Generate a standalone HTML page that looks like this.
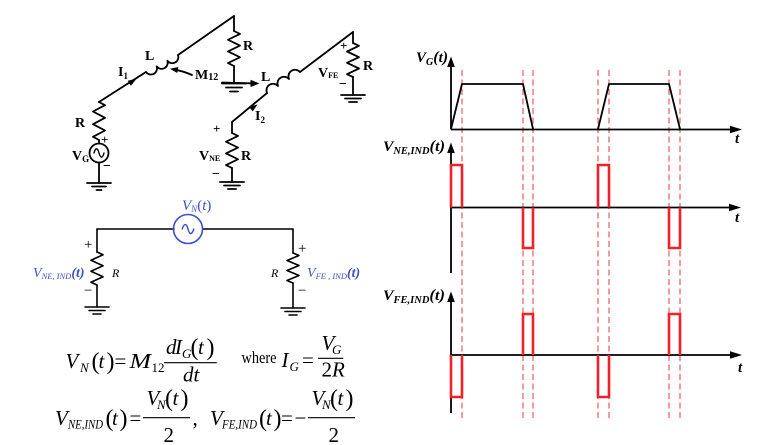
<!DOCTYPE html>
<html><head><meta charset="utf-8"><style>
html,body{margin:0;padding:0;background:#fff;}
svg{display:block;}
text{font-family:"Liberation Serif",serif;fill:#000;}
.b{font-weight:bold;}
.i{font-style:italic;}
.bl{fill:#3f51c7;}
</style></head><body>
<svg width="761" height="445" viewBox="0 0 761 445" xmlns="http://www.w3.org/2000/svg">
<rect width="761" height="445" fill="#fff"/>

<!-- ===== Circuit 1 ===== -->
<g fill="none" stroke="#000" stroke-width="1.8" stroke-linejoin="round" stroke-linecap="round">
  <line x1="99" y1="163" x2="99" y2="183"/>
  <line x1="87" y1="183" x2="111" y2="183"/>
  <line x1="92" y1="186.5" x2="106" y2="186.5"/>
  <line x1="96.5" y1="190" x2="101.5" y2="190"/>
  <circle cx="99" cy="153" r="9.5"/>
  <path d="M94,153 C95.5,147.5 97.5,147.5 99,153 C100.5,158.5 102.5,158.5 104,153" stroke-width="1.4"/>
  <line x1="99" y1="143.5" x2="99" y2="140"/>
  <polyline points="99,102 105,105.2 93,111.5 105,117.8 93,124.2 105,130.5 93,136.8 99,140"/>
  <line x1="99" y1="102" x2="146" y2="72"/>
  <path d="M146,72 a6.1,6.1 0 0 0 10.67,-5.67 a6.1,6.1 0 0 0 10.67,-5.67 a6.1,6.1 0 0 0 10.67,-5.67"/>
  <line x1="178" y1="55" x2="234" y2="16"/>
  <line x1="234" y1="16" x2="234" y2="31"/>
  <polyline points="234,31 240,33.9 228,39.75 240,45.6 228,51.4 240,57.25 228,63.1 234,66"/>
  <line x1="234" y1="66" x2="234" y2="83.5"/>
  <line x1="222" y1="83.5" x2="246" y2="83.5"/>
  <line x1="226" y1="87.5" x2="242" y2="87.5"/>
  <line x1="230" y1="91.5" x2="238" y2="91.5"/>
  <path d="M192,75 Q183,71 175,69.8"/>
  <line x1="222" y1="82.5" x2="251" y2="83.3"/>

  <line x1="232" y1="168" x2="232" y2="182"/>
  <line x1="220" y1="182" x2="244" y2="182"/>
  <line x1="224" y1="185.5" x2="240" y2="185.5"/>
  <line x1="228" y1="189" x2="236" y2="189"/>
  <polyline points="232,133 238,135.9 226,141.75 238,147.6 226,153.4 238,159.25 226,165.1 232,168"/>
  <line x1="232" y1="133" x2="232" y2="122"/>
  <line x1="232" y1="122" x2="267" y2="93"/>
  <path d="M267,93 a6.6,6.6 0 0 1 11,-7 a6.6,6.6 0 0 1 11,-7 a6.6,6.6 0 0 1 11,-7"/>
  <line x1="300" y1="72" x2="353" y2="32"/>
  <line x1="353" y1="32" x2="353" y2="43"/>
  <polyline points="353,43 359,45.8 347,51.5 359,57.2 347,62.8 359,68.5 347,74.2 353,77"/>
  <line x1="353" y1="77" x2="353" y2="95"/>
  <line x1="341" y1="95" x2="365" y2="95"/>
  <line x1="345" y1="98.5" x2="361" y2="98.5"/>
  <line x1="349" y1="102" x2="357" y2="102"/>
</g>
<g fill="#000" stroke="none">
  <polygon points="136.5,78.7 130.9,85.8 127.7,80.8"/>
  <polygon points="170,68.8 178.4,67 177.2,73"/>
  <polygon points="259.5,83.5 250.5,79.8 250.5,87"/>
  <polygon points="257.5,104.5 252.7,111.4 248.9,106.8"/>
</g>

<g class="b" font-size="14">
  <text x="75" y="127">R</text>
  <text x="72" y="160">V<tspan font-size="9" dy="2">G</tspan></text>
  <text x="101" y="144" font-size="13">+</text>
  <text x="103" y="170" font-size="14">−</text>
  <text x="118" y="76">I<tspan font-size="9" dy="3">1</tspan></text>
  <text x="145" y="60">L</text>
  <text x="243" y="50">R</text>
  <text x="195" y="79">M<tspan font-size="10" dy="1">12</tspan></text>
  <text x="261" y="81">L</text>
  <text x="255" y="120">I<tspan font-size="9" dy="3">2</tspan></text>
  <text x="213" y="133" font-size="13">+</text>
  <text x="199" y="160">V<tspan font-size="8" dy="1">NE</tspan></text>
  <text x="212" y="178">−</text>
  <text x="241" y="160">R</text>
  <text x="318" y="77">V<tspan font-size="8" dy="1">FE</tspan></text>
  <text x="340" y="50" font-size="13">+</text>
  <text x="339" y="88">−</text>
  <text x="363" y="70">R</text>
</g>

<!-- ===== Blue equivalent circuit ===== -->
<g fill="none" stroke="#000" stroke-width="1.6" stroke-linejoin="round" stroke-linecap="round">
  <line x1="97" y1="229" x2="174" y2="229"/>
  <line x1="202.5" y1="229" x2="293" y2="229"/>
  <line x1="97" y1="229" x2="97" y2="252"/>
  <polyline points="97,252 103,254.75 91,260.25 103,265.75 91,271.25 103,276.75 91,282.25 97,285"/>
  <line x1="97" y1="285" x2="97" y2="307"/>
  <line x1="85" y1="307" x2="109" y2="307"/>
  <line x1="89" y1="310.5" x2="105" y2="310.5"/>
  <line x1="93" y1="314" x2="101" y2="314"/>
  <line x1="293" y1="229" x2="293" y2="253"/>
  <polyline points="293,253 299,255.5 287,260.5 299,265.5 287,270.5 299,275.5 287,280.5 293,283"/>
  <line x1="293" y1="283" x2="293" y2="308"/>
  <line x1="281" y1="308" x2="305" y2="308"/>
  <line x1="285" y1="311.5" x2="301" y2="311.5"/>
  <line x1="289" y1="315" x2="297" y2="315"/>
</g>
<circle cx="188" cy="229" r="14.5" fill="none" stroke="#3f51c7" stroke-width="1.6"/>
<path d="M182,229.5 C184,223 186.5,223 188,229 C189.5,235 192,235 194,228.5" fill="none" stroke="#3f51c7" stroke-width="1.5"/>

<text class="i bl" x="182" y="210" font-size="15">V<tspan font-size="9" dy="2">N</tspan><tspan dy="-2" font-style="normal">(</tspan>t<tspan font-style="normal">)</tspan></text>
<text x="84" y="249" font-size="15">+</text>
<text x="84" y="295" font-size="15">−</text>
<text class="i" x="112" y="277" font-size="12">R</text>
<text class="i bl" x="33" y="277" font-size="14">V<tspan font-size="8.5" dy="2">NE, IND</tspan><tspan dy="-2" class="b">(t)</tspan></text>
<text x="298" y="253" font-size="15">+</text>
<text x="298" y="295" font-size="15">−</text>
<text class="i" x="271" y="277" font-size="12">R</text>
<text class="i bl" x="307" y="277" font-size="14">V<tspan font-size="8.5" dy="2">FE , IND</tspan><tspan dy="-2" class="b">(t)</tspan></text>

<!-- ===== Equations ===== -->
<g font-size="21">
  <text class="i" x="65.5" y="368">V</text>
  <text class="i" x="80" y="372" font-size="13">N</text>
  <text x="91.5" y="369" font-size="24">(</text>
  <text class="i" x="98.5" y="368">t</text>
  <text x="106.5" y="369" font-size="24">)</text>
  <text x="114.5" y="368">=</text>
  <text class="i" x="129.5" y="368" textLength="21.5" lengthAdjust="spacingAndGlyphs">M</text>
  <text x="151.5" y="372" font-size="13">12</text>
  <line x1="164" y1="362.7" x2="216.7" y2="362.7" stroke="#000" stroke-width="1.1"/>
  <text class="i" x="166" y="354">d</text>
  <text class="i" x="175" y="354">I</text>
  <text class="i" x="182" y="358" font-size="13">G</text>
  <text x="190.5" y="355" font-size="24">(</text>
  <text class="i" x="198" y="354">t</text>
  <text x="206.5" y="355" font-size="24">)</text>
  <text class="i" x="183" y="381.7">dt</text>
  <text x="241.5" y="363" font-size="17" textLength="35" lengthAdjust="spacingAndGlyphs">where</text>
  <text class="i" x="281.5" y="367">I</text>
  <text class="i" x="289.5" y="371" font-size="13">G</text>
  <text x="302" y="367">=</text>
  <line x1="318" y1="358.3" x2="343.3" y2="358.3" stroke="#000" stroke-width="1.1"/>
  <text class="i" x="321.5" y="350">V</text>
  <text class="i" x="332" y="354" font-size="13">G</text>
  <text x="321.5" y="376.7">2</text>
  <text class="i" x="332" y="376.7">R</text>

  <text class="i" x="55" y="425">V</text>
  <text class="i" x="68" y="428.5" font-size="13" textLength="35" lengthAdjust="spacingAndGlyphs">NE,IND</text>
  <text x="105.5" y="426" font-size="24">(</text>
  <text class="i" x="112" y="425">t</text>
  <text x="119.5" y="426" font-size="24">)</text>
  <text x="129.5" y="425">=</text>
  <line x1="143" y1="417.7" x2="190" y2="417.7" stroke="#000" stroke-width="1.1"/>
  <text class="i" x="146.5" y="405">V</text>
  <text class="i" x="157" y="409" font-size="13">N</text>
  <text x="165" y="406" font-size="24">(</text>
  <text class="i" x="172.5" y="405">t</text>
  <text x="180.5" y="406" font-size="24">)</text>
  <text x="163.5" y="442">2</text>
  <text x="192.5" y="425">,</text>

  <text class="i" x="210" y="425">V</text>
  <text class="i" x="222" y="428.5" font-size="13" textLength="35" lengthAdjust="spacingAndGlyphs">FE,IND</text>
  <text x="259" y="426" font-size="24">(</text>
  <text class="i" x="266" y="425">t</text>
  <text x="273.5" y="426" font-size="24">)</text>
  <text x="281" y="425">=</text>
  <text x="294.5" y="425">−</text>
  <line x1="308" y1="417.7" x2="355" y2="417.7" stroke="#000" stroke-width="1.1"/>
  <text class="i" x="311.5" y="405">V</text>
  <text class="i" x="322" y="409" font-size="13">N</text>
  <text x="330" y="406" font-size="24">(</text>
  <text class="i" x="337.5" y="405">t</text>
  <text x="345.5" y="406" font-size="24">)</text>
  <text x="328.5" y="442">2</text>
</g>

<!-- ===== Waveform charts ===== -->
<g stroke="#e35d5d" stroke-width="1.2" stroke-dasharray="6,3.5" fill="none">
  <line x1="462" y1="70" x2="462" y2="418"/>
  <line x1="523" y1="70" x2="523" y2="418"/>
  <line x1="533" y1="70" x2="533" y2="418"/>
  <line x1="598" y1="70" x2="598" y2="418"/>
  <line x1="609" y1="70" x2="609" y2="418"/>
  <line x1="669" y1="70" x2="669" y2="418"/>
  <line x1="680" y1="70" x2="680" y2="418"/>
</g>

<g stroke="#000" stroke-width="1.8" fill="none" stroke-linejoin="round">
  <line x1="451" y1="129.5" x2="451" y2="65"/>
  <line x1="451" y1="129.5" x2="731" y2="129.5"/>
  <polyline points="451,129 462,84 523,84 533,129"/>
  <polyline points="598,129 609,84 669,84 680,129"/>
  <line x1="451" y1="273" x2="451" y2="151"/>
  <line x1="451" y1="207.5" x2="730" y2="207.5"/>
  <line x1="451" y1="413" x2="451" y2="300"/>
  <line x1="451" y1="355" x2="731" y2="355"/>
</g>
<g fill="#000">
  <polygon points="451,56.5 447.2,67 454.8,67"/>
  <polygon points="742,129.5 730,125.8 730,133.2"/>
  <polygon points="451,142.5 447.2,153 454.8,153"/>
  <polygon points="741,207.5 729,203.8 729,211.2"/>
  <polygon points="451,291.5 447.2,302 454.8,302"/>
  <polygon points="742,355 730,351.3 730,358.7"/>
</g>

<g stroke="#ee2228" stroke-width="2.6" fill="none" stroke-linejoin="miter">
  <polyline points="451,207.5 451,165 462,165 462,207.5"/>
  <polyline points="523,207.5 523,248 533,248 533,207.5"/>
  <polyline points="598,207.5 598,165 609,165 609,207.5"/>
  <polyline points="669,207.5 669,248 680,248 680,207.5"/>

  <polyline points="451,355 451,397 462,397 462,355"/>
  <polyline points="523,355 523,314 533,314 533,355"/>
  <polyline points="598,355 598,397 609,397 609,355"/>
  <polyline points="669,355 669,314 680,314 680,355"/>
</g>

<g class="b i" font-size="15">
  <text x="416" y="62">V<tspan font-size="10" dy="3">G</tspan><tspan dy="-3" font-size="16">(</tspan>t<tspan font-size="16">)</tspan></text>
  <text x="383" y="151" textLength="62" lengthAdjust="spacingAndGlyphs">V<tspan font-size="10" dy="3">NE,IND</tspan><tspan dy="-3" font-size="16">(</tspan>t<tspan font-size="16">)</tspan></text>
  <text x="383" y="300" textLength="62" lengthAdjust="spacingAndGlyphs">V<tspan font-size="10" dy="3">FE,IND</tspan><tspan dy="-3" font-size="16">(</tspan>t<tspan font-size="16">)</tspan></text>
  <text x="735" y="143">t</text>
  <text x="735" y="222">t</text>
  <text x="738" y="372">t</text>
</g>
</svg>
</body></html>
